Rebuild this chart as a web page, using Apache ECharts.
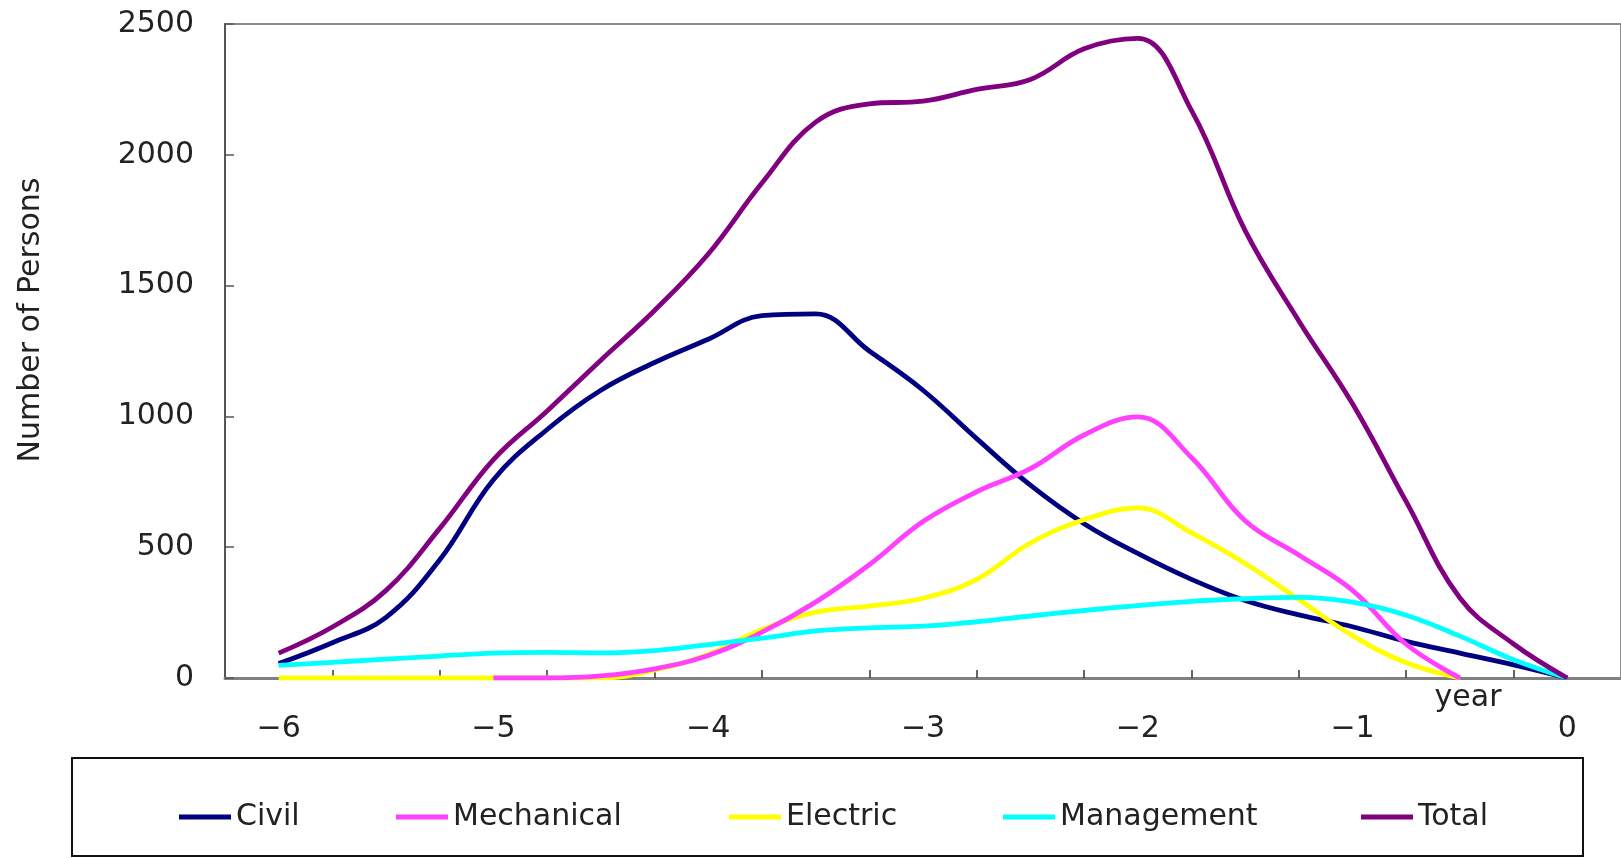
<!DOCTYPE html>
<html><head><meta charset="utf-8">
<script src="https://cdn.jsdelivr.net/npm/echarts@6/dist/echarts.min.js"></script>
<style>html,body{margin:0;padding:0;background:#fff}#c{width:1621px;height:858px}</style>
</head><body><div id="c"></div>
<script>
// x positions (years before completion)
const years = [-6,-5.75,-5.5,-5.25,-5,-4.75,-4.5,-4.25,-4,-3.75,-3.5,-3.25,-3,-2.75,-2.5,-2.25,-2,-1.75,-1.5,-1.25,-1,-0.75,-0.5,-0.25,0];
const civil      = [55,135,232,452,758,950,1100,1206,1295,1385,1392,1250,1100,915,737,590,476,377,296,241,196,140,95,50,0];
const mechanical = [null,null,null,null,0,0,8,35,86,175,290,433,598,712,800,929,998,843,601,470,335,129,0,null,null];
const electric   = [0,0,0,0,0,0,0,30,90,185,252,275,305,377,516,605,650,555,438,300,162,58,0,null,null];
const management = [48,60,72,84,95,98,96,105,128,152,180,192,198,215,237,258,277,293,303,308,290,240,160,70,0];
const total      = [95,195,335,572,835,1021,1215,1405,1621,1892,2125,2195,2205,2250,2288,2405,2445,2170,1710,1365,1048,674,306,130,0];
const seriesNames = ['Civil','Mechanical','Electric','Management','Total'];
const xTickValues = [-5.75,-5.25,-4.75,-4.25,-3.75,-3.25,-2.75,-2.25,-1.75,-1.25,-0.75,-0.25];
const xLabelValues = [-6,-5,-4,-3,-2,-1,0];

const FONT = 'DejaVu Sans';
const FS = 30;
const TXT = '#222';
const colors = {Civil:'#000080', Mechanical:'#ff40ff', Electric:'#ffff00', Management:'#00ffff', Total:'#800080'};
const values = {Civil:civil, Mechanical:mechanical, Electric:electric, Management:management, Total:total};
const pairs = arr => years.map((x,i)=>[x, arr[i]]);

// draw order: Electric beneath Mechanical
const drawOrder = ['Civil','Electric','Mechanical','Management','Total'];
const series = drawOrder.map(n => ({
  name: n, type: 'line', data: pairs(values[n]), smooth: 0.4, symbol: 'none',
  lineStyle: {color: colors[n], width: 4.8}, itemStyle: {color: colors[n]}, connectNulls: false
}));

const legendLeft = [174, 391, 724, 998, 1356];
const legends = seriesNames.map((n,i)=>({
  data:[n], left: legendLeft[i], top: 797, orient:'horizontal',
  itemWidth: 52, itemHeight: 5, icon: 'rect', selectedMode: false,
  textStyle: {fontSize: FS, fontFamily: FONT, color: TXT}
}));

const chart = echarts.init(document.getElementById('c'), null, {renderer:'canvas'});
chart.setOption({
  animation: false,
  backgroundColor: '#fff',
  grid: {left: 225, right: -4, top: 24, bottom: 180, show: true, borderColor: '#8c8c8c', borderWidth: 2, backgroundColor: 'transparent'},
  xAxis: {
    type: 'value', min: -6.25, max: 0.25,
    axisLine: {show: true, onZero: false, lineStyle: {color: '#808080', width: 3}},
    axisTick: {show: true, inside: true, length: 8, customValues: xTickValues, lineStyle: {color: '#333', width: 1.5}},
    axisLabel: {customValues: xLabelValues, margin: 36, fontSize: FS, fontFamily: FONT, color: TXT,
      formatter: v => (v < 0 ? '\u2212' + Math.abs(v) : String(v))},
    splitLine: {show: false}
  },
  yAxis: {
    type: 'value', min: 0, max: 2500, interval: 500,
    axisLine: {show: true, onZero: false, lineStyle: {color: '#555', width: 2}},
    axisTick: {show: true, inside: true, length: 9, lineStyle: {color: '#555', width: 1.5}},
    axisLabel: {margin: 31, fontSize: FS, fontFamily: FONT, color: TXT, formatter: v => String(v)},
    splitLine: {show: false}
  },
  legend: legends,
  graphic: [
    {type:'rect', shape:{x:72, y:758, width:1511, height:98}, style:{fill:'none', stroke:'#111', lineWidth:2}, z:-1},
    {type:'text', x:31, y:320, rotation: Math.PI/2, style:{text:'Number of Persons', fontSize:FS, fontFamily:FONT, fill:TXT, align:'center', verticalAlign:'middle'}},
    {type:'text', x:1468, y:698, style:{text:'year', fontSize:FS, fontFamily:FONT, fill:TXT, align:'center', verticalAlign:'middle'}}
  ],
  series: series
});
</script></body></html>
